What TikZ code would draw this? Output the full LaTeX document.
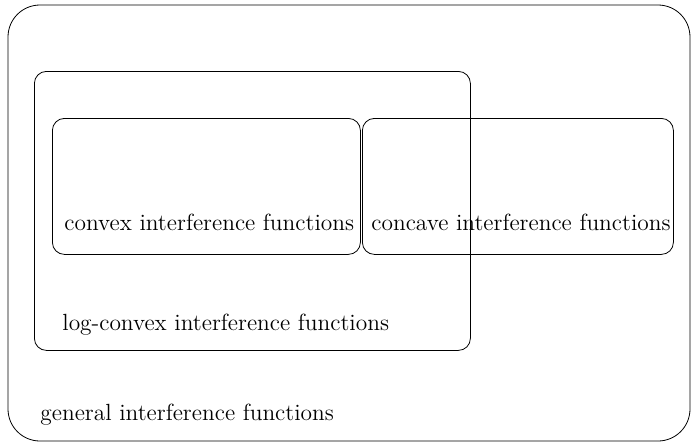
\documentclass[tikz,border=0pt]{standalone}
\begin{document}
\begin{tikzpicture}[x=0.5pt,y=-0.5pt,
  box/.style={draw,rounded corners=6pt,line width=0.4pt},
  lbl/.style={anchor=base west,inner sep=0pt,font=\fontsize{11.7}{14}\selectfont}]
\useasboundingbox (0,0) rectangle (698,447);
\draw[rounded corners=16pt,line width=0.4pt] (8,5) rectangle (690,441);
\node[box,minimum width=436*0.5pt,minimum height=279*0.5pt,anchor=north west] (logconvex) at (34,71) {};
\node[box,minimum width=308*0.5pt,minimum height=136*0.5pt,anchor=north west] (convex) at (52,118) {};
\node[box,minimum width=311*0.5pt,minimum height=136*0.5pt,anchor=north west] (concave) at (362,118) {};
\node[lbl] (tconvex) at (64,230) {convex interference functions};
\node[lbl] (tconcave) at (371,230) {concave interference functions};
\node[lbl] (tlog) at (62,330) {log-convex interference functions};
\node[lbl] (tgen) at (40,420) {general interference functions};
\end{tikzpicture}
\end{document}
